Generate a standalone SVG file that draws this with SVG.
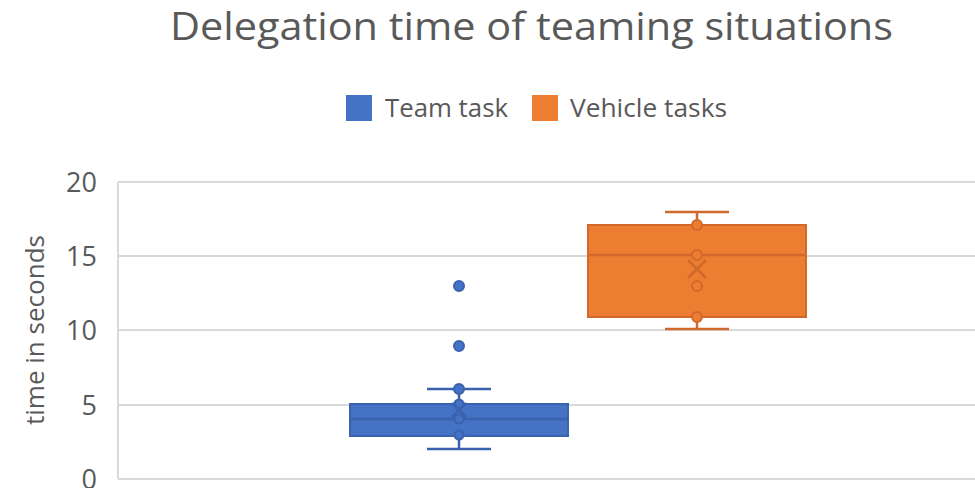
<svg xmlns="http://www.w3.org/2000/svg" width="975" height="488" viewBox="0 0 975 488">
<style>
text{font-family:"Open Sans","Liberation Sans",sans-serif;fill:#595959}
.grid{stroke:#d9d9d9;stroke-width:2}
.tick{font-size:27px;text-anchor:end}
.b{fill:#4472c4;stroke:#3a62ad;stroke-width:2}
.bl{stroke:#3a62ad;stroke-width:2.5;fill:none}
.bp{fill:#4472c4;stroke:#3a62ad;stroke-width:2}
.o{fill:#ed7d31;stroke:#d0692a;stroke-width:2}
.ol{stroke:#d0692a;stroke-width:2.5;fill:none}
.op{fill:#ed7d31;stroke:#d0692a;stroke-width:2}
</style>
<rect width="975" height="488" fill="#ffffff"/>
<text x="170" y="40" font-size="38" textLength="723" lengthAdjust="spacingAndGlyphs">Delegation time of teaming situations</text>
<g id="legend">
<rect x="346" y="95" width="26" height="26" fill="#4472c4"/>
<text x="385" y="117" font-size="26" textLength="123" lengthAdjust="spacingAndGlyphs">Team task</text>
<rect x="532" y="95" width="26" height="26" fill="#ed7d31"/>
<text x="570" y="117" font-size="26" textLength="157" lengthAdjust="spacingAndGlyphs">Vehicle tasks</text>
</g>
<g id="axes">
<line class="grid" x1="118" y1="182" x2="975" y2="182"/>
<line class="grid" x1="118" y1="256" x2="975" y2="256"/>
<line class="grid" x1="118" y1="330" x2="975" y2="330"/>
<line class="grid" x1="118" y1="405" x2="975" y2="405"/>
<line class="grid" x1="118" y1="479" x2="975" y2="479"/>
<line class="grid" x1="118" y1="182" x2="118" y2="479"/>
<text class="tick" x="97" y="192">20</text>
<text class="tick" x="97" y="266">15</text>
<text class="tick" x="97" y="340">10</text>
<text class="tick" x="97" y="415">5</text>
<text class="tick" x="97" y="489">0</text>
<text font-size="26" text-anchor="middle" transform="translate(44 330) rotate(-90)" textLength="190" lengthAdjust="spacingAndGlyphs">time in seconds</text>
</g>
<g id="team-task">
<line class="bl" x1="459" y1="389" x2="459" y2="449"/>
<line class="bl" x1="427" y1="389" x2="491" y2="389"/>
<line class="bl" x1="427" y1="449" x2="491" y2="449"/>
<rect class="b" x="350" y="404" width="218" height="32"/>
<line class="bl" x1="350" y1="419" x2="568" y2="419"/>
<circle class="bp" cx="459" cy="286" r="5"/>
<circle class="bp" cx="459" cy="346" r="5"/>
<circle class="bp" cx="459" cy="389" r="5"/>
<circle class="bp" cx="459" cy="404" r="4.5"/>
<circle class="bp" cx="459" cy="419" r="4.5"/>
<circle class="bp" cx="459" cy="435" r="4.5"/>
<path class="bl" d="M452 403 L466 417 M466 403 L452 417"/>
</g>
<g id="vehicle-tasks">
<line class="ol" x1="697" y1="212" x2="697" y2="329"/>
<line class="ol" x1="665" y1="212" x2="729" y2="212"/>
<line class="ol" x1="665" y1="329" x2="729" y2="329"/>
<rect class="o" x="588" y="225" width="218" height="92"/>
<line class="ol" x1="588" y1="255" x2="806" y2="255"/>
<circle class="op" cx="697" cy="225" r="5"/>
<circle class="op" cx="697" cy="255" r="5"/>
<circle class="op" cx="697" cy="286" r="5"/>
<circle class="op" cx="697" cy="317" r="5"/>
<path class="ol" d="M688 260 L706 278 M706 260 L688 278"/>
</g>
</svg>
